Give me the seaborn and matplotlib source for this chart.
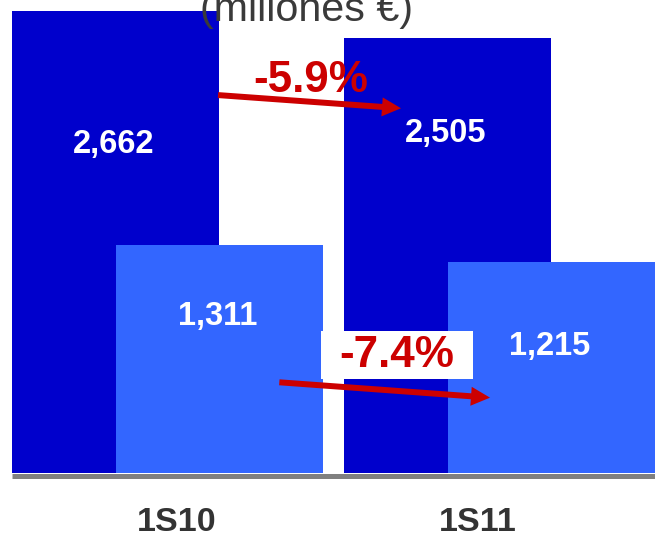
import matplotlib
matplotlib.use("Agg")
import matplotlib.pyplot as plt
from matplotlib.path import Path
import numpy as np
import pandas as pd
import seaborn as sns

# ---- data (millones €) ----
periods = ["1S10", "1S11"]
total_values = [2662, 2505]
partial_values = [1311, 1215]
change_labels = ["-5.9%", "-7.4%"]
title_text = "(millones €)"

# ---- styling ----
DARK = "#0000CC"
LIGHT = "#3366FF"
RED = "#CC0000"
TEXT_GREY = "#333333"
TITLE_GREY = "#3a3a3a"
AXIS_GREY = "#808080"

W, H, DPI = 655, 536, 100
BAR_WIDTH = 0.6235          # in group units
LIGHT_OFFSET = 0.3133       # overlap shift of the second series
TICK_POS = [0.183, 1.092]

sns.set_style("white")
plt.rcParams["font.family"] = ["Liberation Sans", "DejaVu Sans"]

fig = plt.figure(figsize=(W / DPI, H / DPI), dpi=DPI, facecolor="white")
ax = fig.add_axes([0, 1 - 475.5 / H, 1, 475.5 / H])
ax.set_facecolor("white")

group_idx = np.arange(len(periods))
bars = pd.DataFrame({
    "periodo": periods * 2,
    "serie": ["total"] * len(periods) + ["parcial"] * len(periods),
    "valor": total_values + partial_values,
    "pos": np.concatenate([group_idx, group_idx + LIGHT_OFFSET]),
})

for serie, color in [("total", DARK), ("parcial", LIGHT)]:
    sub = bars[bars["serie"] == serie]
    sns.barplot(data=sub, x="pos", y="valor", orient="x", native_scale=True,
                width=BAR_WIDTH, color=color, saturation=1, errorbar=None,
                linewidth=0, ax=ax)

ax.set_xlim(-0.348, 1.625)
ax.set_ylim(-14.4, 2724.7)
ax.set_xlabel("")
ax.set_ylabel("")
ax.set_yticks([])

for side in ["left", "right", "top"]:
    ax.spines[side].set_visible(False)
ax.spines["bottom"].set_color(AXIS_GREY)
ax.spines["bottom"].set_linewidth(5 * 72 / DPI)
ax.spines["bottom"].set_capstyle("butt")
ax.spines["bottom"].set_bounds(-BAR_WIDTH / 2, 1.625)

ax.set_xticks(TICK_POS)
ax.set_xticklabels(periods, fontsize=24.5, fontweight="bold", color=TEXT_GREY)
ax.tick_params(axis="x", length=0, pad=22.7)

# value labels inside the bars
value_label_y = {"total": [1843, 1907], "parcial": [852, 680]}
for _, row in bars.iterrows():
    i = periods.index(row["periodo"])
    ax.text(row["pos"] - 0.007, value_label_y[row["serie"]][i],
            f"{row['valor']:,}", ha="center", va="baseline", color="white",
            fontsize=23.5, fontweight="bold")

# change arrows
arrow_kw = dict(width=4.3, headwidth=13.7, headlength=13.7, shrink=0,
                color=RED, linewidth=0)
ax.annotate("", xy=(0.860, 2101), xytext=(0.3087, 2177),
            xycoords="data", textcoords="data", arrowprops=arrow_kw)
ax.annotate("", xy=(1.128, 434), xytext=(0.4934, 522.5),
            xycoords="data", textcoords="data", arrowprops=arrow_kw)


def label_box(x0, y0, width, height, mutation_size):
    px, py = 0.42 * mutation_size, 0.08 * mutation_size
    x0, y0 = x0 - px, y0 - py
    x1, y1 = x0 + width + 2 * px, y0 + height + 2 * py
    return Path([(x0, y0), (x1, y0), (x1, y1), (x0, y1), (x0, y0)], closed=True)


ax.text(0.589, 2195, change_labels[0], ha="center", va="baseline",
        color=RED, fontsize=31.7, fontweight="bold")
ax.text(0.848, 611, change_labels[1], ha="center", va="baseline",
        color=RED, fontsize=31.7, fontweight="bold",
        bbox=dict(boxstyle=label_box, facecolor="white", edgecolor="none"))

fig.text(306.5 / W, 1 - 21 / H, title_text, ha="center", va="baseline",
         fontsize=29.7, color=TITLE_GREY)

fig.savefig("out.png", dpi=DPI, facecolor="white")
